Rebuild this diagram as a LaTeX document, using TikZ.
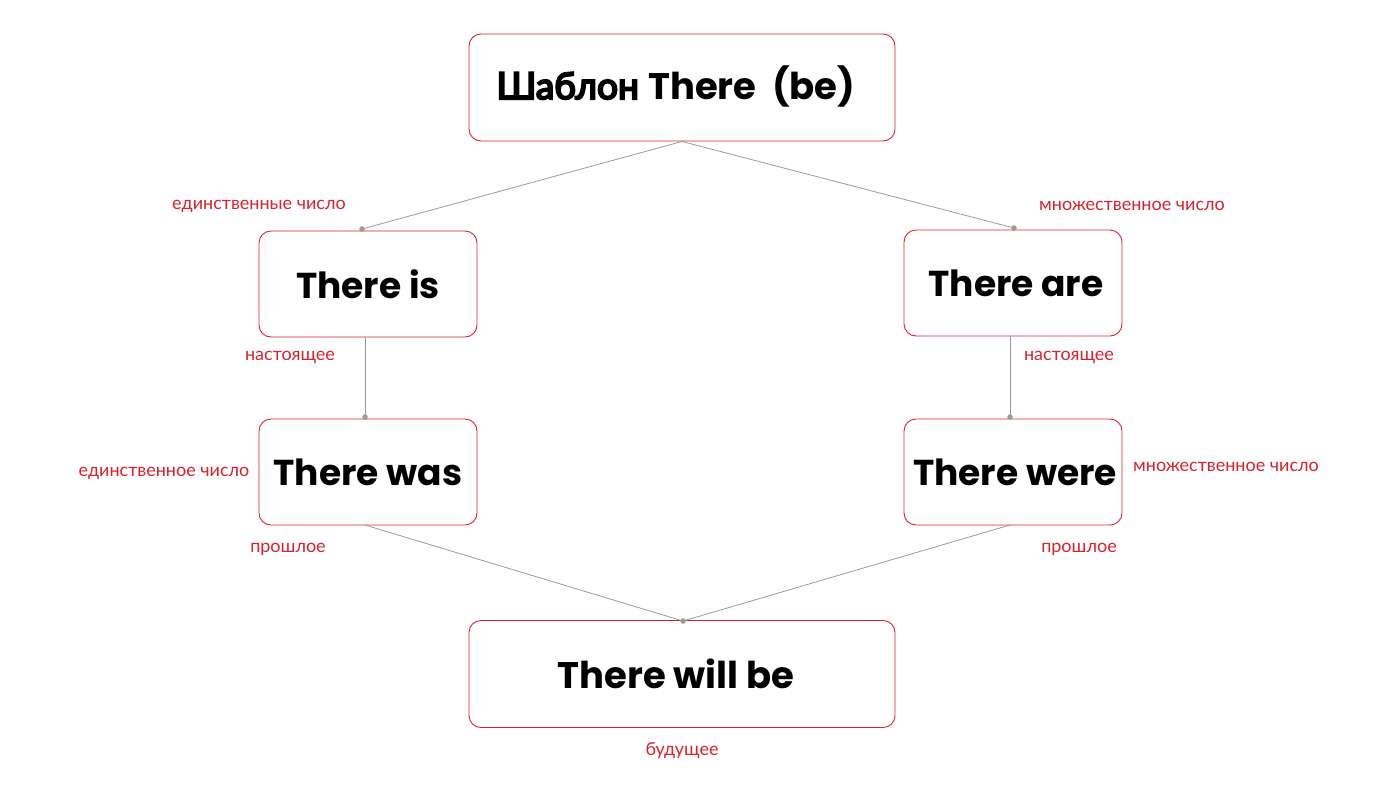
\documentclass[tikz,border=0pt]{standalone}
\usepackage{fontspec}
\setmainfont{Lato}
\newfontfamily\latinfont{Poppins}
\newfontfamily\cyrbold{Lato}[FakeBold=5.5]
\definecolor{boxred}{HTML}{D9222E}
\definecolor{linegray}{HTML}{9A9A9A}
\newcommand\bxt[1]{\lower3pt\hbox{#1}}
\begin{document}
\begin{tikzpicture}[x=1pt,y=-1pt,
  box/.style={draw=boxred,line width=0.9pt,rounded corners=12pt,inner sep=0pt,
    font=\fontsize{36}{40}\selectfont\latinfont\bfseries},
  small/.style={minimum width=218pt,minimum height=106pt},
  wide/.style={minimum width=426pt,minimum height=107pt},
  lbl/.style={text=boxred,font=\fontsize{18}{21}\selectfont,inner sep=0pt},
  conn/.style={draw=linegray,line width=0.8pt},
  dot/.style={circle,fill=linegray,inner sep=0pt,minimum size=5.5pt}]
\path[fill=white] (0,0) rectangle (1386,804);
\useasboundingbox (0,0) rectangle (1386,804);
\node[box,wide] (top) at (682,87.5) {};
\node[anchor=base,inner sep=0pt] (toptext) at (676,99) {\cyrbold\fontsize{37}{40}\selectfont Шаблон \latinfont\bfseries There\ \ (be)};
\node[box,small] (is) at (368,284) {\bxt{There is}};
\node[box,small] (are) at (1013,283) {\bxt{\hspace{6pt}There are}};
\node[box,small] (was) at (368,472) {\bxt{There was}};
\node[box,small] (were) at (1013,472) {\bxt{\hspace{4pt}There were}};
\node[box,wide] (will) at (682,674) {\bxt{\fontsize{37}{40}\selectfont There will be\hspace{12pt}}};
\coordinate (isTop) at (362,229);
\coordinate (areTop) at (1014,228);
\coordinate (wasTop) at (365,417);
\coordinate (wereTop) at (1010,417);
\coordinate (isBot) at (365,337);
\coordinate (areBot) at (1010,336);
\coordinate (wasBot) at (365,525);
\coordinate (wereBot) at (1010,525);
\coordinate (willTop) at (683,621);
\draw[conn] (top.south) -- (isTop);
\draw[conn] (top.south) -- (areTop);
\draw[conn] (isBot) -- (wasTop);
\draw[conn] (areBot) -- (wereTop);
\draw[conn] (wasBot) -- (willTop);
\draw[conn] (wereBot) -- (willTop);
\foreach \p in {isTop,areTop,wasTop,wereTop,willTop} \node[dot] at (\p) {};
\node[lbl] (l1) at (259,206) {единственные число};
\node[lbl] (l2) at (1132,206) {множественное число};
\node[lbl] (l3) at (290,357) {настоящее};
\node[lbl] (l4) at (1069,357) {настоящее};
\node[lbl] (l5) at (164,473) {единственное число};
\node[lbl] (l6) at (1226,467) {множественное число};
\node[lbl] (l7) at (288,549) {прошлое};
\node[lbl] (l8) at (1079,549) {прошлое};
\node[lbl] (l9) at (682,751) {будущее};
\end{tikzpicture}
\end{document}
